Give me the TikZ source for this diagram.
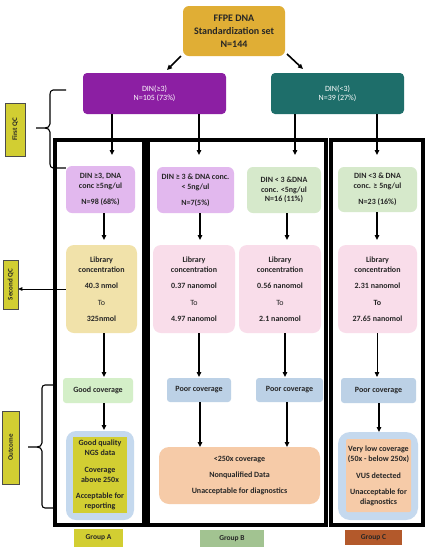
\documentclass[tikz,border=0pt]{standalone}
\usepackage{fontspec}
\setmainfont{Carlito}
\usetikzlibrary{arrows.meta}
\definecolor{txt}{HTML}{262626}
\definecolor{gold}{HTML}{E0AE35}
\definecolor{purp}{HTML}{8C1FA3}
\definecolor{teal}{HTML}{1E6E6A}
\definecolor{lpurp}{HTML}{E2B8EE}
\definecolor{lgreen}{HTML}{D6E9CB}
\definecolor{khaki}{HTML}{F1E2AA}
\definecolor{lpink}{HTML}{F9DDEA}
\definecolor{ggreen}{HTML}{D4EFC8}
\definecolor{pblue}{HTML}{BCD1E6}
\definecolor{oblue}{HTML}{C5D9EE}
\definecolor{ylw}{HTML}{D2CE32}
\definecolor{peach}{HTML}{F6CBA8}
\definecolor{grpb}{HTML}{A2C391}
\definecolor{grpc}{HTML}{B3592B}
\begin{document}
\begin{tikzpicture}[x=1pt,y=-1pt,
  box/.style={rounded corners=6pt, align=center, font=\bfseries\fontsize{8}{10}\selectfont, text=txt, inner sep=0pt},
  arr/.style={-{Triangle[length=5pt,width=4.5pt]}, line width=1.3pt},
  thinarr/.style={-{Triangle[length=4pt,width=3.5pt]}, line width=0.6pt},
  frame/.style={draw=black, line width=3.5pt, inner sep=0pt},
  tag/.style={draw=black!70, line width=0.5pt, fill=ylw, text=txt, font=\bfseries\fontsize{7}{9}\selectfont, inner sep=0pt, rotate=90},
  grp/.style={inner sep=0pt, text=txt, font=\bfseries\fontsize{7.5}{9}\selectfont},
  brace/.style={line width=1.1pt}]
\useasboundingbox (0,0) rectangle (428,550);
\fill[white] (0,0) rectangle (428,550);

% group frames
\node[frame, minimum width=89, minimum height=385] (fa) at (99.5,332.5) {};
\node[frame, minimum width=178, minimum height=385] (fb) at (237,332.5) {};
\node[frame, minimum width=92, minimum height=385] (fc) at (377,332.5) {};

% top
\node[box, fill=gold, minimum width=102, minimum height=50, font=\bfseries\fontsize{10}{13}\selectfont] (ffpe) at (234,31) {FFPE DNA\\Standardization set\\N=144};
\node[box, rounded corners=4pt, fill=purp, text=white, minimum width=143, minimum height=41, font=\fontsize{8}{9}\selectfont] (din3) at (154.5,93.5) {DIN(≥3)\\N=105 (73\%)};
\node[box, rounded corners=4pt, fill=teal, text=white, minimum width=133, minimum height=41, font=\fontsize{8}{9}\selectfont] (dinlt) at (337.5,93.5) {DIN(<3)\\N=39 (27\%)};
\coordinate (t1) at (181,56); \coordinate (t1e) at (167,70);
\coordinate (t2) at (287,54); \coordinate (t2e) at (303,69);
\draw[arr, line width=1.6pt] (t1) -- (t1e);
\draw[arr, line width=1.6pt] (t2) -- (t2e);

% row 1
\node[box, fill=lpurp, minimum width=69, minimum height=47] (r1a) at (100.5,189.5) {DIN ≥3, DNA\\conc ≥5ng/ul\\[6pt]N=98 (68\%)};
\node[box, fill=lpurp, minimum width=77, minimum height=46] (r1b1) at (195.5,190) {DIN ≥ 3 \& DNA conc.\\< 5ng/ul\\[6pt]N=7(5\%)};
\node[box, fill=lgreen, minimum width=74, minimum height=46, font=\bfseries\fontsize{8}{9.5}\selectfont] (r1b2) at (284,190) {DIN < 3 \&DNA\\conc. <5ng/ul\\N=16 (11\%)};
\node[box, fill=lgreen, minimum width=79, minimum height=45] (r1c) at (377.5,189.5) {DIN <3 \& DNA\\conc. ≥ 5ng/ul\\[6pt]N=23 (16\%)};

% row 2
\node[box, rounded corners=8pt, fill=khaki, minimum width=71, minimum height=88] (r2a) at (101.5,289) {Library\\concentration\\[6pt]40.3 nmol\\[7pt]\mdseries To\\[6pt]325nmol};
\node[box, rounded corners=8pt, fill=lpink, minimum width=82, minimum height=88] (r2b1) at (194,289) {Library\\concentration\\[6pt]0.37 nanomol\\[7pt]\mdseries To\\[6pt]4.97 nanomol};
\node[box, rounded corners=8pt, fill=lpink, minimum width=82, minimum height=88] (r2b2) at (280,289) {Library\\concentration\\[6pt]0.56 nanomol\\[7pt]\mdseries To\\[6pt]2.1 nanomol};
\node[box, rounded corners=8pt, fill=lpink, minimum width=79, minimum height=88] (r2c) at (377.5,289) {Library\\concentration\\[6pt]2.31 nanomol\\[7pt]To\\[6pt]27.65 nanomol};

% row 3
\node[box, rounded corners=3pt, fill=ggreen, minimum width=70, minimum height=25] (r3a) at (98,390.5) {Good coverage};
\node[box, rounded corners=3pt, fill=pblue, minimum width=64, minimum height=24] (r3b1) at (199,390) {Poor coverage};
\node[box, rounded corners=3pt, fill=pblue, minimum width=67, minimum height=24] (r3b2) at (289.5,390) {Poor coverage};
\node[box, rounded corners=3pt, fill=pblue, minimum width=75, minimum height=25] (r3c) at (378.5,390.5) {Poor coverage};

% row 4
\node[box, rounded corners=10pt, fill=oblue, minimum width=68, minimum height=89] (r4ao) at (100,475.5) {};
\node[box, rounded corners=0pt, fill=ylw, minimum width=54, minimum height=76] (r4a) at (100,475) {Good quality\\NGS data\\[7pt]Coverage\\above 250x\\[6pt]Acceptable for\\reporting};
\node[box, rounded corners=10pt, fill=peach, minimum width=161, minimum height=57] (r4b) at (239.5,475.5) {<250x coverage\\[6pt]Nonqualified Data\\[6pt]Unacceptable for diagnostics};
\node[box, rounded corners=12pt, fill=oblue, minimum width=80, minimum height=88] (r4co) at (378,476) {};
\node[box, rounded corners=2pt, fill=peach, minimum width=65, minimum height=73] (r4c) at (378.5,475.5) {Very low coverage\\(50x - below 250x)\\[7pt]VUS detected\\[6pt]Unacceptable for\\diagnostics};

% arrows DIN -> row1
\coordinate (e1) at (112,155); \coordinate (e2) at (199,155);
\coordinate (e3) at (295,155); \coordinate (e4) at (377,155);
\draw[arr] (din3.south -| e1) -- (e1);
\draw[arr] (din3.south -| e2) -- (e2);
\draw[arr] (dinlt.south -| e3) -- (e3);
\draw[arr] (dinlt.south -| e4) -- (e4);
% row1 -> row2
\coordinate (f1) at (104,240); \coordinate (f2) at (200,240);
\coordinate (f3) at (287,240); \coordinate (f4) at (377,240);
\draw[arr] (r1a.south -| f1) -- (f1);
\draw[arr] (r1b1.south -| f2) -- (f2);
\draw[arr] (r1b2.south -| f3) -- (f3);
\draw[arr] (r1c.south -| f4) -- (f4);
% row2 -> row3
\coordinate (g1) at (104,377); \coordinate (g2) at (199,377);
\coordinate (g3) at (285,377); \coordinate (g4) at (377,377);
\draw[arr] (r2a.south -| g1) -- (g1);
\draw[arr] (r2b1.south -| g2) -- (g2);
\draw[arr] (r2b2.south -| g3) -- (g3);
\draw[arr, line width=0.8pt] (r2c.south -| g4) -- (g4);
% row3 -> row4
\coordinate (h1) at (104,430); \coordinate (h2) at (200,447);
\coordinate (h3) at (287,447); \coordinate (h4) at (379,432);
\draw[arr] (r3a.south -| h1) -- (h1);
\draw[arr] (r3b1.south -| h2) -- (h2);
\draw[arr] (r3b2.south -| h3) -- (h3);
\draw[arr] (r3c.south -| h4) -- (h4);

% left labels
\node[tag, minimum width=53, minimum height=20] (qc1) at (15,129.5) {First QC};
\node[tag, minimum width=49, minimum height=15] (qc2) at (10.5,284.5) {Second QC};
\node[tag, minimum width=73, minimum height=17] (out) at (10.5,447.5) {Outcome};

% braces
\draw[brace] (66,90) -- (53,90) to[out=180,in=90] (50,94) -- (50,124) to[out=-90,in=0] (45,128) -- (36,128);
\draw[brace] (45,128) to[out=0,in=90] (50,132) -- (50,164) to[out=-90,in=180] (53,168) -- (r1a.west |- 0,168);
\draw[thinarr] (r2a.west) -- (r2a.west -| qc2.south);
\draw[brace] (55,385) -- (45,385) to[out=180,in=90] (42,388) -- (42,443) to[out=-90,in=0] (37,447) -- (28,447);
\draw[brace] (37,447) to[out=0,in=90] (42,451) -- (42,505) to[out=-90,in=180] (45,508) -- (55,508);

% group labels
\node[grp, fill=ylw, minimum width=49, minimum height=18] (ga) at (98.5,538) {Group A};
\node[grp, fill=grpb, minimum width=64, minimum height=17] (gb) at (232,538.5) {Group B};
\node[grp, fill=grpc, minimum width=57, minimum height=15] (gc) at (373.5,537.5) {Group C};
\end{tikzpicture}
\end{document}
